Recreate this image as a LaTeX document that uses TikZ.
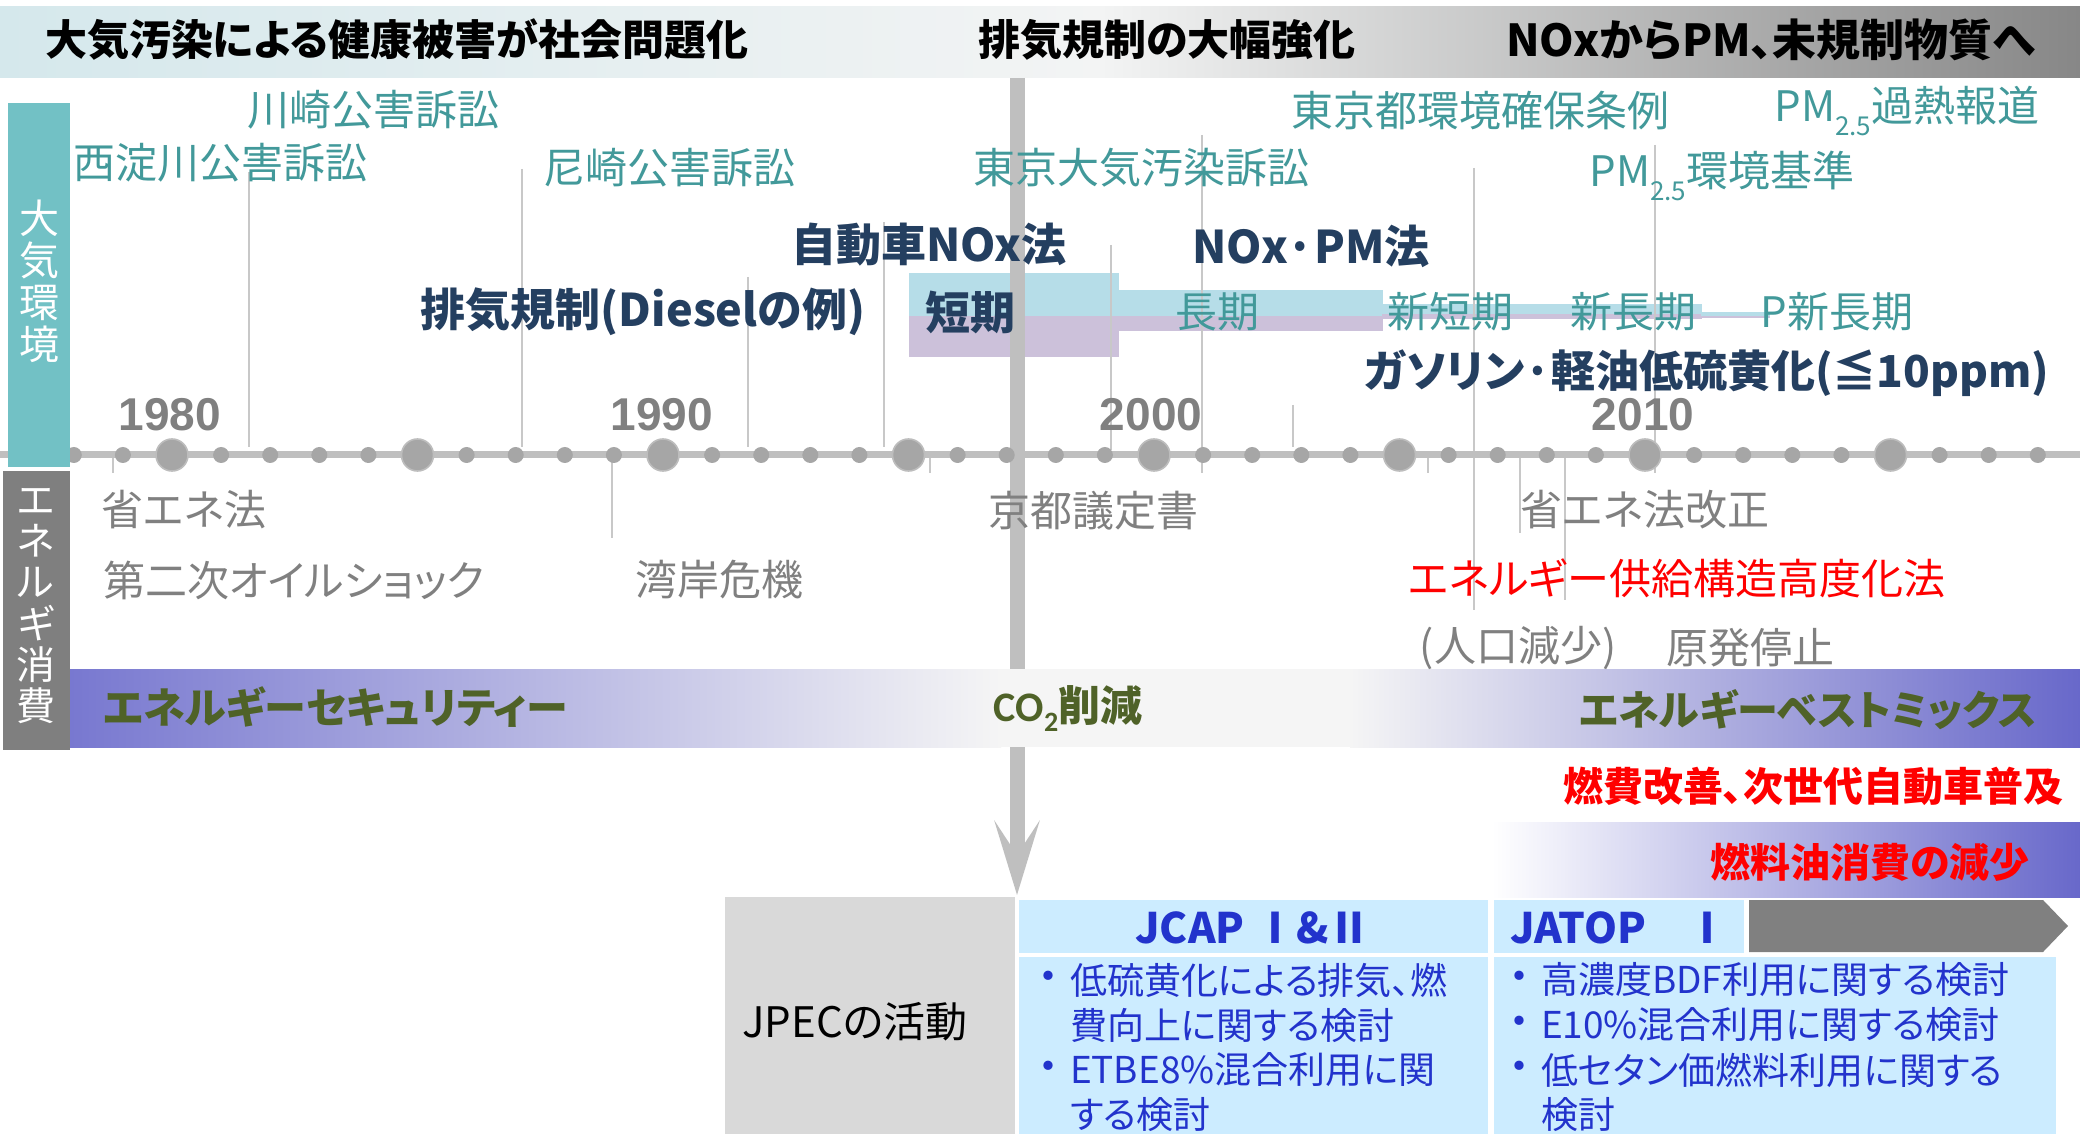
\documentclass[tikz,border=0pt]{standalone}
\usepackage{fontspec}
\setmainfont{Noto Sans CJK JP}[RawFeature=+palt]
\newfontfamily\yearfont{Liberation Sans}
\newfontfamily\carlito{Carlito}
\usetikzlibrary{arrows.meta}
\definecolor{topL}{HTML}{D5E8EC}
\definecolor{topM}{HTML}{F3F4F4}
\definecolor{topR}{HTML}{878787}
\definecolor{tealbox}{HTML}{72C1C5}
\definecolor{greybox}{HTML}{7F7F7F}
\definecolor{tealtxt}{HTML}{42999A}
\definecolor{navytxt}{HTML}{243F60}
\definecolor{greytxt}{HTML}{808080}
\definecolor{olivetxt}{HTML}{4F6228}
\definecolor{bluetxt}{HTML}{2233CC}
\definecolor{regT}{HTML}{B6DDE8}
\definecolor{regL}{HTML}{CCC1DA}
\definecolor{evline}{HTML}{C8C8C8}
\definecolor{barc}{HTML}{BFBFBF}
\definecolor{dotc}{HTML}{A6A6A6}
\definecolor{dotrim}{HTML}{BDBDBD}
\definecolor{purpL}{HTML}{7878D0}
\definecolor{purpR}{HTML}{6868CA}
\definecolor{bandM}{HTML}{F5F5F5}
\definecolor{jpec}{HTML}{D9D9D9}
\definecolor{lblue}{HTML}{CCECFF}
\definecolor{arrowg}{HTML}{808080}
\begin{document}
\begin{tikzpicture}[x=0.5pt,y=-0.5pt,
  lbl/.style={inner sep=0pt,outer sep=0pt},
  tTitle/.style={lbl,font=\fontsize{21}{25}\selectfont\bfseries,text=black},
  tTeal/.style={lbl,font=\fontsize{21}{25}\selectfont,text=tealtxt},
  tNavy/.style={lbl,font=\fontsize{22.5}{27}\selectfont\bfseries,text=navytxt},
  tGrey/.style={lbl,font=\fontsize{21}{25}\selectfont,text=greytxt},
  tRedN/.style={lbl,font=\fontsize{21}{25}\selectfont,text=red},
  tRedB/.style={lbl,font=\fontsize{20}{24}\selectfont\bfseries,text=red},
  tYear/.style={lbl,font=\yearfont\bfseries\fontsize{23}{27}\selectfont,text=greytxt},
  tOlive/.style={lbl,font=\fontsize{21}{25}\selectfont\bfseries,text=olivetxt},
  tBlue/.style={lbl,font=\fontsize{18.5}{21}\selectfont,text=bluetxt,anchor=west},
  tHead/.style={lbl,font=\fontsize{21}{25}\selectfont\bfseries,text=bluetxt},
  ev/.style={evline,line width=0.8pt},
  barline/.style={barc,line width=7.5pt}
]
\useasboundingbox (0,0) rectangle (2080,1138);
\fill[white] (0,0) rectangle (2080,1138);
% top band
\shade[left color=topL,right color=topM] (0,7) rectangle (1101,78);
\shade[left color=topM,right color=topR] (1100,7) rectangle (2080,78);
% regulation bars
\fill[regT] (909,273) rectangle (1119,316);
\fill[regL] (909,316) rectangle (1119,357);
\fill[regT] (1118,290) rectangle (1383,316);
\fill[regL] (1118,316) rectangle (1383,331);
\fill[regT] (1382,304) rectangle (1702,314);
\fill[regL] (1382,314) rectangle (1702,319);
\fill[regT] (1701,312) rectangle (1770,316);
\fill[regL] (1701,316) rectangle (1770,318);
% event lines
\draw[ev] (249,172) -- (249,447);
\draw[ev] (522,169) -- (522,447);
\draw[ev] (748,277) -- (748,447);
\draw[ev] (884,222) -- (884,447);
\draw[ev] (1111,245) -- (1111,450);
\draw[ev] (1202,135) -- (1202,473);
\draw[ev] (1293,405) -- (1293,447);
\draw[ev] (1474,168) -- (1474,610);
\draw[ev] (1655,145) -- (1655,473);
\draw[ev] (113,458) -- (113,473);
\draw[ev] (612,455) -- (612,538);
\draw[ev] (930,458) -- (930,473);
\draw[ev] (1428,458) -- (1428,473);
\draw[ev] (1520,458) -- (1520,533);
\draw[ev] (1565,458) -- (1565,600);
% vertical bar with arrow
\coordinate (barTop) at (1017,78);
\coordinate (barTip) at (1017,895);
\draw[barline,-{Stealth[length=37pt,width=22.5pt,inset=17pt]}] (barTop) -- (barTip);
% axis and dots
\draw[barc,line width=3.5pt] (0,455) -- (2080,455);
\foreach \yr in {1978,...,2018}{
  \pgfmathsetmacro\xx{172+(\yr-1980)*49.1}
  \pgfmathtruncatemacro\mm{mod(\yr,5)}
  \ifnum\mm=0
    \filldraw[fill=dotc,draw=dotrim,line width=0.8pt] (\xx,455) circle[radius=8pt];
  \else
    \fill[dotc] (\xx,455) circle[radius=4pt];
  \fi
}
% left boxes
\fill[tealbox] (8,103) rectangle (70,467);
\fill[greybox] (3,471) rectangle (70,750);
\node[lbl,align=center,text=white,font=\fontsize{20}{21}\selectfont] (vAir) at (39,281) {大\\気\\環\\境};
\node[lbl,align=center,text=white,font=\fontsize{19.5}{20.6}\selectfont] (vEne) at (36,606) {エ\\ネ\\ル\\ギ\\消\\費};
% energy band
\shade[left color=purpL,right color=bandM] (70,669) rectangle (1001,747);
\fill[bandM] (1000,669) rectangle (1351,747);
\shade[left color=bandM,right color=purpR] (1350,669) rectangle (2080,747);
% band 2
\shade[left color=white,right color=purpR] (1492,822) rectangle (2080,897);
% JPEC area
\fill[jpec] (725,897) rectangle (1015,1134);
\fill[lblue] (1019,900) rectangle (1488,953);
\fill[lblue] (1494,900) rectangle (1744,953);
\fill[arrowg] (1749,900) -- (2043,900) -- (2068,926) -- (2043,952) -- (1749,952) -- cycle;
\fill[lblue] (1019,957) rectangle (1488,1134);
\fill[lblue] (1494,957) rectangle (2056,1134);

% title texts
\node[tTitle,anchor=west] (hd1) at (45,40) {大気汚染による健康被害が社会問題化};
\node[tTitle] (hd2) at (1167,40) {排気規制の大幅強化};
\node[tTitle,font=\fontsize{22}{26}\selectfont\bfseries] (hd3) at (1771,40) {NOxからPM、未規制物質へ};
% teal texts
\node[tTeal] (kawasaki) at (373,110) {川崎公害訴訟};
\node[tTeal] (nishiyodo) at (220,163) {西淀川公害訴訟};
\node[tTeal] (amagasaki) at (669,168) {尼崎公害訴訟};
\node[tTeal] (tokyo) at (1141,168) {東京大気汚染訴訟};
\node[tTeal] (jorei) at (1480,111) {東京都環境確保条例};
\node[tTeal] (pmnews) at (1907,111) {PM\raisebox{-7pt}{\fontsize{13}{13}\selectfont 2.5}過熱報道};
\node[tTeal] (pmstd) at (1722,176) {PM\raisebox{-7pt}{\fontsize{13}{13}\selectfont 2.5}環境基準};
% navy texts
\node[tNavy] (noxlaw) at (929,245) {自動車NOx法};
\node[tNavy] (noxpm) at (1311,246) {NOx·PM法};
\node[tNavy] (exreg) at (643,312) {排気規制(Dieselの例)};
\node[tNavy] (short) at (970,312) {短期};
\node[tNavy,font=\fontsize{22}{26}\selectfont\bfseries] (lowsulf) at (1707,373) {ガソリン·軽油低硫黄化(≦10ppm)};
\node[tTeal] (long) at (1217,312) {長期};
\node[tTeal] (nshort) at (1450,312) {新短期};
\node[tTeal] (nlong) at (1633,312) {新長期};
\node[tTeal] (plong) at (1837,312) {P新長期};
% years
\node[tYear] (y1980) at (170,415) {1980};
\node[tYear] (y1990) at (662,415) {1990};
\node[tYear] (y2000) at (1151,415) {2000};
\node[tYear] (y2010) at (1643,415) {2010};
% grey texts
\node[tGrey] (shoene) at (184,510) {省エネ法};
\node[tGrey,anchor=west] (oil) at (103,580) {第二次オイルショック};
\node[tGrey] (gulf) at (719,580) {湾岸危機};
\node[tGrey] (kyoto) at (1093,511) {京都議定書};
\node[tGrey] (shoene2) at (1645,510) {省エネ法改正};
\node[tRedN] (kodoka) at (1677,578) {エネルギー供給構造高度化法};
\node[tGrey] (jinko) at (1518,648) {(人口減少)};
\node[tGrey] (genpatsu) at (1750,648) {原発停止};
% band texts
\node[tOlive,anchor=west] (security) at (103,707) {エネルギーセキュリティー};
\node[tOlive] (co2) at (1068,709) {{\carlito CO\raisebox{-5pt}{\fontsize{14}{14}\selectfont 2}}削減};
\node[tOlive,font=\fontsize{20.5}{25}\selectfont\bfseries] (bestmix) at (1808,710) {エネルギーベストミックス};
\node[tRedB] (nenpi) at (1813,786) {燃費改善、次世代自動車普及};
\node[tRedB] (genshou) at (1870,862) {燃料油消費の減少};
% JPEC
\node[lbl,font=\fontsize{21}{25}\selectfont,text=black] (jpecl) at (855,1022) {JPECの活動};
\node[tHead] (jcap) at (1253,928) {JCAP Ⅰ\&Ⅱ};
\node[tHead,anchor=west] (jatop) at (1510,928) {JATOP\hspace{20pt}Ⅰ};
\foreach \yy/\nm in {980/a,1070/b}{\node[tBlue,anchor=center,font=\fontsize{22}{24}\selectfont] (jb\nm) at (1048,\yy+2) {・};}
\node[tBlue] (j1) at (1070,980) {低硫黄化による排気、燃};
\node[tBlue] (j2) at (1070,1025) {費向上に関する検討};
\node[tBlue] (j3) at (1070,1070) {ETBE8\%混合利用に関};
\node[tBlue] (j4) at (1070,1115) {する検討};
\foreach \yy/\nm in {980/a,1025/b,1070/c}{\node[tBlue,anchor=center,font=\fontsize{22}{24}\selectfont] (kb\nm) at (1519,\yy+2) {・};}
\node[tBlue] (k1) at (1541,980) {高濃度BDF利用に関する検討};
\node[tBlue] (k2) at (1541,1025) {E10\%混合利用に関する検討};
\node[tBlue] (k3) at (1541,1070) {低セタン価燃料利用に関する};
\node[tBlue] (k4) at (1541,1115) {検討};
\end{tikzpicture}
\end{document}
